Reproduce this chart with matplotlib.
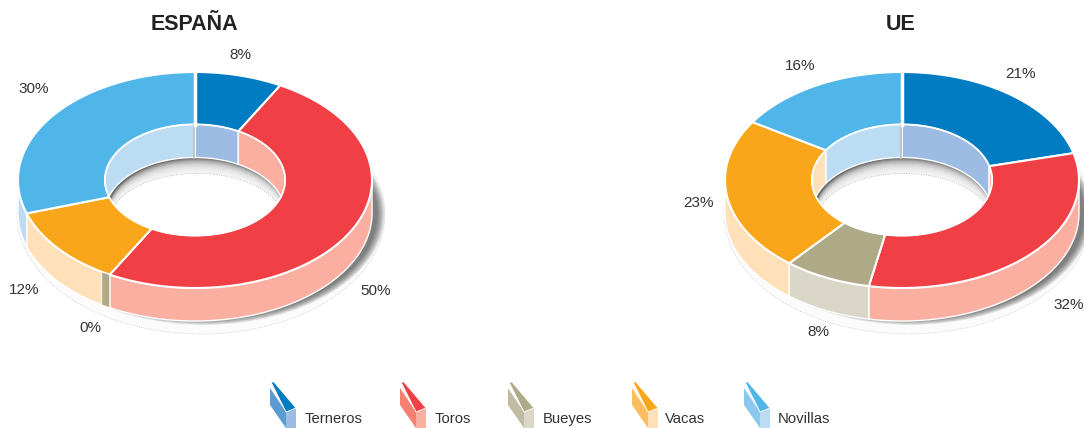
import numpy as np
import matplotlib
matplotlib.use('Agg')
import matplotlib.pyplot as plt
from matplotlib.patches import Polygon, Ellipse

plt.rcParams['font.family'] = ['Liberation Sans', 'DejaVu Sans']

# Data
categorias = ['Terneros', 'Toros', 'Bueyes', 'Vacas', 'Novillas']
espana = [8, 50, 0, 12, 30]
ue = [21, 32, 8, 23, 16]
etiquetas_espana = ['8%', '50%', '0%', '12%', '30%']
etiquetas_ue = ['21%', '32%', '8%', '23%', '16%']

# Styles per category: top, legend side, wall
top = ['#007CC3', '#F03F45', '#AEA986', '#FAA61A', '#50B5E9']
side = ['#5B9BD2', '#F77F6F', '#C0BCA4', '#FDBE5F', '#8CC8EE']
wall = ['#9DBCE3', '#FBAFA1', '#DAD7C8', '#FFE0B8', '#BBDCF3']

# Layout in pixels
RX, RY = 177, 108
IRX, IRY = 90, 55.5
CY = 180
DEPTH = 33
ZERO_WIDTH = 3.0  # degrees, the empty slice still shows a sliver of wall


def arc(cx, cy, rx, ry, a0, a1, n=90):
    # angles in degrees, clockwise from the top
    t = np.radians(np.linspace(a0, a1, n))
    return np.column_stack([cx + rx * np.sin(t), cy - ry * np.cos(t)])


def overlap(a0, a1, lo, hi):
    res = []
    for k in (-360, 0, 360):
        s, e = max(a0, lo + k), min(a1, hi + k)
        if e > s:
            res.append((s, e))
    return res


def draw_donut(ax, cx, valores, etiquetas, lab_pos, titulo):
    # ground shadow, faint floor plus a darker part to the right
    ax.add_patch(Ellipse((cx + 6, CY + DEPTH + 1), 368, 240, fc='#fbfbfb', ec='#d4d4d4',
                         lw=0.7, ls=(0, (1, 1.5)), zorder=1))
    for i in range(12):
        t = i / 11
        ax.add_patch(Ellipse((cx + 9, CY + DEPTH + 1), 2 * (181 - 8 * t), 2 * (111 - 6 * t),
                             fc='#303030', ec='none', alpha=0.07, zorder=1.1))

    # angles of the slices
    acum = np.cumsum([0] + valores) * 3.6
    trozos = list(zip(acum[:-1], acum[1:]))

    # outer walls
    for i, (a0, a1) in enumerate(trozos):
        if valores[i] == 0:
            continue
        for s, e in overlap(a0, a1, 90, 270):
            sup = arc(cx, CY, RX, RY, s, e)
            inf = arc(cx, CY + DEPTH, RX, RY, e, s)
            ax.add_patch(Polygon(np.vstack([sup, inf]), fc=wall[i], ec='white', lw=1, zorder=2))

    # top faces
    for i, (a0, a1) in enumerate(trozos):
        if valores[i] == 0:
            continue
        ext = arc(cx, CY, RX, RY, a0, a1)
        inn = arc(cx, CY, IRX, IRY, a1, a0)
        ax.add_patch(Polygon(np.vstack([ext, inn]), fc=top[i], ec='white', lw=1.5, zorder=3))

    # hole: floor with soft shadow under the inner wall
    hueco = Ellipse((cx, CY), 2 * IRX, 2 * IRY, fc='#6a6a6a', ec='none', zorder=4)
    ax.add_patch(hueco)
    for i in range(14):
        t = (i + 1) / 14
        p = Ellipse((cx + 2, CY + DEPTH + 8 * t), 2 * (IRX - 3 * t), 2 * (IRY - 8 * t),
                    fc='white', ec='none', alpha=0.2, zorder=4.1)
        ax.add_patch(p)
        p.set_clip_path(hueco)
    p = Ellipse((cx + 2, CY + DEPTH + 8), 2 * (IRX - 3), 2 * (IRY - 8), fc='white', ec='#c4c4c4',
                lw=0.7, ls=(0, (1, 1.5)), zorder=4.2)
    ax.add_patch(p)
    p.set_clip_path(hueco)

    # inner walls, only the back half shows
    for i, (a0, a1) in enumerate(trozos):
        if valores[i] == 0:
            continue
        for s, e in overlap(a0, a1, -90, 90):
            sup = arc(cx, CY, IRX, IRY, s, e)
            inf = arc(cx, CY + DEPTH, IRX, IRY, e, s)
            p = Polygon(np.vstack([sup, inf]), fc=wall[i], ec='white', lw=1, zorder=5)
            ax.add_patch(p)
            p.set_clip_path(hueco)
    ax.add_patch(Ellipse((cx, CY), 2 * IRX, 2 * IRY, fc='none', ec='white', lw=1, zorder=5.5))

    # gap at twelve o'clock
    ax.plot([cx - 1.5, cx - 1.5], [CY - IRY, CY - IRY + DEPTH], color='#bdbdbd', lw=1.2, zorder=6)
    ax.plot([cx, cx], [CY - RY, CY - IRY], color='white', lw=2.5, zorder=6)

    # empty slices: just the cut face
    for i, (a0, a1) in enumerate(trozos):
        if valores[i] == 0:
            ext = arc(cx, CY, RX, RY, a0, a0 + ZERO_WIDTH, 8)
            inf = arc(cx, CY + DEPTH, RX, RY, a0 + ZERO_WIDTH, a0, 8)
            ax.add_patch(Polygon(np.vstack([ext, inf]), fc=top[i], ec='white', lw=0.6, zorder=6))

    for txt, (x, y) in zip(etiquetas, lab_pos):
        ax.text(x, y, txt, ha='center', va='center', fontsize=11, color='#333333', zorder=7)
    ax.text(cx - 1, 24, titulo, ha='center', va='center', fontsize=15.5, fontweight='bold',
            color='#222222', zorder=7)


fig = plt.figure(figsize=(10.84, 4.28), dpi=100)
ax = fig.add_axes([0, 0, 1, 1])
ax.set_xlim(0, 1084)
ax.set_ylim(428, 0)
ax.axis('off')

draw_donut(ax, 195, espana, etiquetas_espana,
           [(240, 55), (376, 291), (90, 328), (24, 290), (34, 89)], 'ESPAÑA')
draw_donut(ax, 902, ue, etiquetas_ue,
           [(1020, 74), (1069, 305), (818, 332), (698, 203), (800, 66)], 'UE')

# legend
ley_x = [270, 400, 508, 632, 744]
txt_x = [305, 435, 543, 665, 778]
for i, nombre in enumerate(categorias):
    x = ley_x[i]
    ax.add_patch(Polygon([(x, 388), (x + 16, 412), (x + 16, 428), (x, 405)], fc=side[i], ec='none', zorder=3))
    ax.add_patch(Polygon([(x + 16, 412), (x + 26, 408), (x + 26, 428), (x + 16, 428)], fc=wall[i], ec='none', zorder=3))
    ax.add_patch(Polygon([(x + 1, 382), (x + 4, 382), (x + 26, 408), (x + 16, 412)], fc=top[i], ec='white', lw=0.6, zorder=3))
    ax.text(txt_x[i], 419, nombre, ha='left', va='center', fontsize=10.7, color='#333333')

fig.savefig('out.png', dpi=100)
